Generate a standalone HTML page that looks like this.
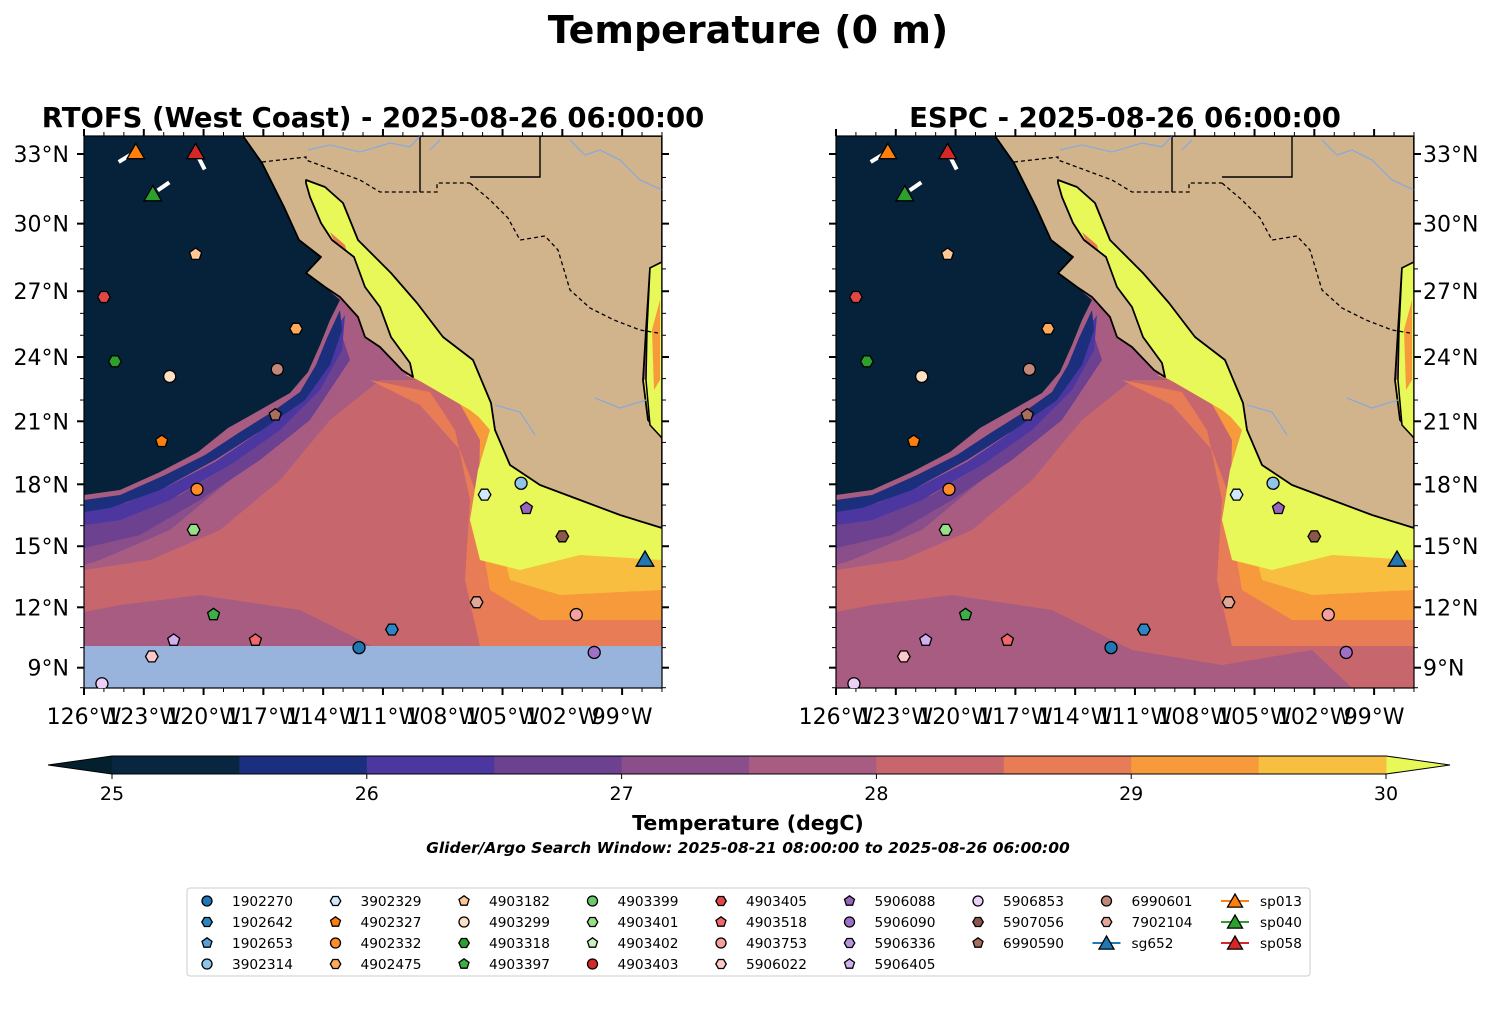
<!DOCTYPE html>
<html><head><meta charset="utf-8"><style>
body{margin:0;background:#fff;}
svg text{font-family:"DejaVu Sans","Liberation Sans",sans-serif;}
</style></head><body>
<svg id="fig" width="1497" height="1014" viewBox="0 0 1497 1014" xmlns="http://www.w3.org/2000/svg">
<defs>
<clipPath id="clipL"><rect x="84" y="136" width="578" height="552"/></clipPath>
<clipPath id="clipR"><rect x="836" y="136" width="578" height="552"/></clipPath>
<g id="field">
  <rect x="84" y="136" width="578" height="552" fill="#a85c82"/>
  <polygon fill="#c8666e" points="84,570 150,560 220,530 280,480 330,420 380,380 662,380 662,688 600,688 560,650 470,665 380,650 300,610 200,595 120,605 84,612"/>
  <polygon fill="#a85c82" points="84,625 160,612 240,645 84,688"/>
  <polygon fill="#8a4f8a" points="84,540 140,530 190,500 240,470 280,430 230,480 170,530 100,560 84,565"/>
  <polygon fill="#e87c56" points="370,380 430,392 455,430 470,500 465,580 480,646 662,646 662,600 520,600 490,530 460,450 420,405"/>
  <polygon fill="#f69a3c" points="405,375 455,395 480,440 478,520 490,590 540,620 662,620 662,380"/>
  <polygon fill="#f8be40" points="440,385 480,410 500,450 495,520 510,580 560,595 662,590 662,380"/>
  <polygon fill="#e8f858" points="415,378 460,395 490,430 478,470 470,520 480,560 520,570 580,555 662,560 662,380"/>
  <polygon fill="#6b4190" points="84,520 130,515 180,495 230,465 270,435 300,410 320,380 340,330 350,360 310,420 260,460 200,500 140,535 84,548"/>
  <polygon fill="#4c36a0" points="84,508 125,503 170,485 215,462 255,435 285,412 310,388 325,360 335,330 345,315 342,350 320,390 280,430 230,465 170,500 120,520 84,525"/>
  <polygon fill="#1c2f7c" points="84,500 120,495 165,475 205,455 240,432 272,412 300,392 316,365 327,338 340,310 342,330 330,365 305,400 262,430 215,460 160,490 110,508 84,512"/>
  <polygon fill="#06223a" points="84,136 243,136 262,163 284,207 299,240 321,257 306,273 325,287 340,300 330,320 320,345 308,372 290,393 260,410 228,428 198,452 160,472 120,490 84,495"/>
  <!-- gulf of california -->
  <polygon fill="#e8f858" points="306,180 325,187 343,203 358,240 391,273 417,303 443,337 473,360 491,403 495,430 470,410 413,377 410,363 391,337 380,307 365,287 354,257 332,240 321,223 310,197"/>
  <polygon fill="#e87c56" points="330,232 345,245 352,270 340,255"/>
  <polygon fill="#e87c56" points="383,335 395,345 398,355"/>
  <!-- land -->
  <polygon fill="#d2b48c" stroke="#000" stroke-width="1.8" stroke-linejoin="round" points="243,136 662,136 662,262 650,268 646,330 643,380 648,420 662,438 662,528 620,515 580,500 540,485 510,465 495,430 491,403 473,360 443,337 417,303 391,273 358,240 343,203 325,187 306,180 306,183 310,197 321,223 332,240 354,257 365,287 380,307 391,337 410,363 413,377 402,370 380,347 365,337 358,317 340,297 325,287 306,273 321,257 299,240 284,207 262,163"/>
  <polygon fill="#e8f858" stroke="#000" stroke-width="1.5" points="650,268 662,262 662,438 650,425 646,380 647,330"/>
  <polygon fill="#f69a3c" points="652,330 660,300 660,380 654,390"/>
  <polyline fill="none" stroke="#000" stroke-width="1.3" stroke-dasharray="4,3" points="262,162 306,157 306,160 360,180 380,192 420,192 437,192 437,183 470,183"/>
  <polyline fill="none" stroke="#000" stroke-width="1.4" points="420,192 420,136"/>
  <polyline fill="none" stroke="#000" stroke-width="1.4" points="470,177 540,177 540,136"/>
  <polyline fill="none" stroke="#000" stroke-width="1.3" stroke-dasharray="4,3" points="470,183 490,200 508,218 520,240 545,236 558,250 570,290 590,308 614,320 640,330 658,333"/>
  <polyline fill="none" stroke="#8aaad8" stroke-width="1.3" points="308,150 330,145 360,152 390,143 410,147 420,136"/>
  <polyline fill="none" stroke="#8aaad8" stroke-width="1.3" points="430,150 440,140"/>
  <polyline fill="none" stroke="#8aaad8" stroke-width="1.3" points="570,140 585,155 600,150 620,160 640,180 662,190"/>
  <polyline fill="none" stroke="#8aaad8" stroke-width="1.3" points="595,398 620,408 646,400"/>
  <polyline fill="none" stroke="#8aaad8" stroke-width="1.3" points="495,405 520,412 535,435"/>
</g>
</defs>
<text x="748" y="43" text-anchor="middle" font-size="38" font-weight="bold">Temperature (0 m)</text>
<text x="373" y="127" text-anchor="middle" font-size="27.5" font-weight="bold">RTOFS (West Coast) - 2025-08-26 06:00:00</text>
<text x="1125" y="127" text-anchor="middle" font-size="27.5" font-weight="bold">ESPC - 2025-08-26 06:00:00</text>
<g clip-path="url(#clipL)">
  <use href="#field"/>
  <rect x="84" y="646" width="578" height="42" fill="#98b4dc"/>
</g>
<g clip-path="url(#clipR)">
  <g transform="translate(752,0)"><use href="#field"/></g>
</g>
<g id="axesL"></g><g id="axesR"></g><g id="marksL"></g><g id="marksR"></g>
<g id="cbar"></g>
<text x="748" y="830" text-anchor="middle" font-size="20.5" font-weight="bold">Temperature (degC)</text>
<text x="748" y="853" text-anchor="middle" font-size="15.5" font-weight="bold" font-style="italic">Glider/Argo Search Window: 2025-08-21 08:00:00 to 2025-08-26 06:00:00</text>
<rect x="187" y="888" width="1123" height="88" rx="3" fill="#fff" stroke="#ccc" stroke-width="1"/>
<g id="legend"></g>
</svg>
<script>
const ids = ["1902270","1902642","1902653","3902314","3902329","4902327","4902332","4902475","4903182","4903299","4903318","4903397","4903399","4903401","4903402","4903403","4903405","4903518","4903753","5906022","5906088","5906090","5906336","5906405","5906853","5907056","6990590","6990601","7902104","sg652","sp013","sp040","sp058"];
const lons = [-112.2,-110.55,null,-104.07,-105.9,-122.1,-120.33,-115.36,-120.4,-121.7,-124.45,-119.5,null,-120.5,null,null,-125.0,-117.4,-101.3,-122.6,-103.8,-100.4,null,-121.5,-125.1,-102.0,-116.4,-116.3,-106.3,-97.85,-123.4,-122.55,-120.4];
const lats = [10.0,10.9,null,18.05,17.5,20.05,17.76,25.3,28.65,23.1,23.8,11.64,null,15.8,null,null,26.74,10.37,11.64,9.56,16.84,9.76,null,10.37,8.2,15.48,21.3,23.43,12.25,14.37,33.1,31.3,33.1];
const shapes = ["o","h","p","o","h","p","o","h","p","o","h","p","o","h","p","o","h","p","o","h","p","o","h","p","o","h","p","o","h","^","^","^","^"];
const colors = ["#1f77b4","#2b86c4","#5aa0d8","#8ec6ea","#cfe8fb","#ff7f0e","#ff8c2a","#ffaa5a","#ffc896","#ffe0c4","#2ca02c","#3cb043","#6cc86a","#98df8a","#c8f0c0","#d62728","#e04848","#f06868","#f4a0a0","#fcc8c8","#9467bd","#a070c8","#b894dc","#d0b0f0","#ecd0f8","#8c564b","#a86e60","#c08878","#e0a898","#1f77b4","#ff7f0e","#2ca02c","#d62728"];
const cbTicks = [25,26,27,28,29,30];
const cbLevels = [25,25.5,26,26.5,27,27.5,28,28.5,29,29.5,30];
const cbColors = ["#08263f","#1c2f7f","#4c36a0","#6b4190","#8a4f8a","#a85c82","#c8666e","#e87c56","#f69a3c","#f8be40"];
const lonTicks = [-126,-123,-120,-117,-114,-111,-108,-105,-102,-99];
const latTicks = [9,12,15,18,21,24,27,30,33];

const NS="http://www.w3.org/2000/svg";
function el(tag, attrs, parent){const e=document.createElementNS(NS,tag);for(const k in attrs)e.setAttribute(k,attrs[k]);parent.appendChild(e);return e;}
const Y0=154, K=1134, M33=Math.log(Math.tan(Math.PI/4+33*Math.PI/360));
function merc(lat){return Math.log(Math.tan(Math.PI/4+lat*Math.PI/360));}
function yOf(lat){return Y0+(M33-merc(lat))*K;}
function xOf(lon,x0){return x0+(lon+126)*19.93;}
function shapePts(s,cx,cy,r){
  let n=s==="h"?6:5, off=s==="h"?0:-Math.PI/2; if(s==="^"){n=3;off=-Math.PI/2;}
  const p=[];for(let i=0;i<n;i++){const a=off+i*2*Math.PI/n;p.push((cx+r*Math.cos(a)).toFixed(1)+","+(cy+r*Math.sin(a)+(s==="^"?r*0.2:0)).toFixed(1));}return p.join(" ");}
function marker(parent,s,cx,cy,r,fill){
  if(s==="o") return el("circle",{cx:cx,cy:cy,r:r,fill:fill,stroke:"#000","stroke-width":1.3},parent);
  return el("polygon",{points:shapePts(s,cx,cy,s==="^"?r*1.45:r*1.05),fill:fill,stroke:"#000","stroke-width":1.3},parent);
}
function axes(gid,x0,labelSide){
  const g=document.getElementById(gid);
  const x1=x0+578;
  el("rect",{x:x0,y:136,width:578,height:552,fill:"none",stroke:"#000","stroke-width":1.2},g);
  for(let lon=-126;lon<=-97;lon++){
    const x=xOf(lon,x0); const major=lonTicks.includes(lon); const L=major?7:4;
    el("line",{x1:x,y1:136,x2:x,y2:136-L,stroke:"#000","stroke-width":major?2:1},g);
    el("line",{x1:x,y1:688,x2:x,y2:688+L,stroke:"#000","stroke-width":major?2:1},g);
  }
  lonTicks.forEach(lon=>{const t=el("text",{x:xOf(lon,x0),y:724,"text-anchor":"middle","font-size":22},g);t.textContent=(-lon)+"°W";
    
    });
  for(let lat=8;lat<=33;lat++){
    const y=yOf(lat); const major=latTicks.includes(lat); const L=major?7:4;
    el("line",{x1:x0,y1:y,x2:x0-L,y2:y,stroke:"#000","stroke-width":major?2:1},g);
    el("line",{x1:x1,y1:y,x2:x1+L,y2:y,stroke:"#000","stroke-width":major?2:1},g);
  }
  latTicks.forEach(lat=>{const y=yOf(lat);
    const t=el("text",{x:labelSide==="left"?x0-15:x1+9,y:y+8,"text-anchor":labelSide==="left"?"end":"start","font-size":22},g);t.textContent=lat+"°N";
    
    });
}
axes("axesL",84,"left"); axes("axesR",836,"right");
function marks(gid,x0,clip){
  const g=document.getElementById(gid); g.setAttribute("clip-path","url(#"+clip+")");
  ids.forEach((id,i)=>{ if(lons[i]===null) return;
    const cx=xOf(lons[i],x0), cy=yOf(lats[i]);
    if(shapes[i]==="^" && id!=="sg652"){
      const ang = id==="sp040"?-0.6:(id==="sp058"?1.1:2.6);
      el("line",{x1:cx+6*Math.cos(ang),y1:cy+6*Math.sin(ang),x2:cx+20*Math.cos(ang),y2:cy+20*Math.sin(ang),stroke:"#fff","stroke-width":4},g);
    }
    const m=marker(g,shapes[i],cx,cy,shapes[i]==="^"?7:6,colors[i]);
    
    
  });
}
marks("marksL",84,"clipL"); marks("marksR",836,"clipR");
// colorbar
const cb=document.getElementById("cbar");
const cbx=v=>112+(v-25)*(1386-112)/5;
el("polygon",{points:"48,765 112,756 112,774",fill:"#04202f"},cb);
el("polygon",{points:"1386,756 1450,765 1386,774",fill:"#e8f858"},cb);
cbColors.forEach((c,i)=>{const r=el("rect",{x:cbx(cbLevels[i]),y:756,width:cbx(cbLevels[i+1])-cbx(cbLevels[i])+0.5,height:18,fill:c},cb);
  
  });
el("polygon",{points:"48,765 112,756 1386,756 1450,765 1386,774 112,774",fill:"none",stroke:"#000","stroke-width":1},cb);
cbTicks.forEach(v=>{el("line",{x1:cbx(v),y1:774,x2:cbx(v),y2:779,stroke:"#000"},cb);
  const t=el("text",{x:cbx(v),y:800,"text-anchor":"middle","font-size":19},cb);t.textContent=v;
  
  });
// legend: first 6 columns hold 4 entries, remaining columns 3
const lg=document.getElementById("legend");
ids.forEach((id,i)=>{
  let col,row; if(i<24){col=Math.floor(i/4);row=i%4;} else {col=6+Math.floor((i-24)/3);row=(i-24)%3;}
  const mx=207+col*128.5, my=901+row*21;
  const it=el("g",{},lg);
  
  
  if(shapes[i]==="^") el("line",{x1:mx-14,y1:my,x2:mx+14,y2:my,stroke:colors[i],"stroke-width":2},it);
  marker(it,shapes[i],mx,my,shapes[i]==="^"?6:5,colors[i]);
  const t=el("text",{x:mx+25,y:my+5,"font-size":13.7},it); t.textContent=id;
});
</script>
</body></html>
